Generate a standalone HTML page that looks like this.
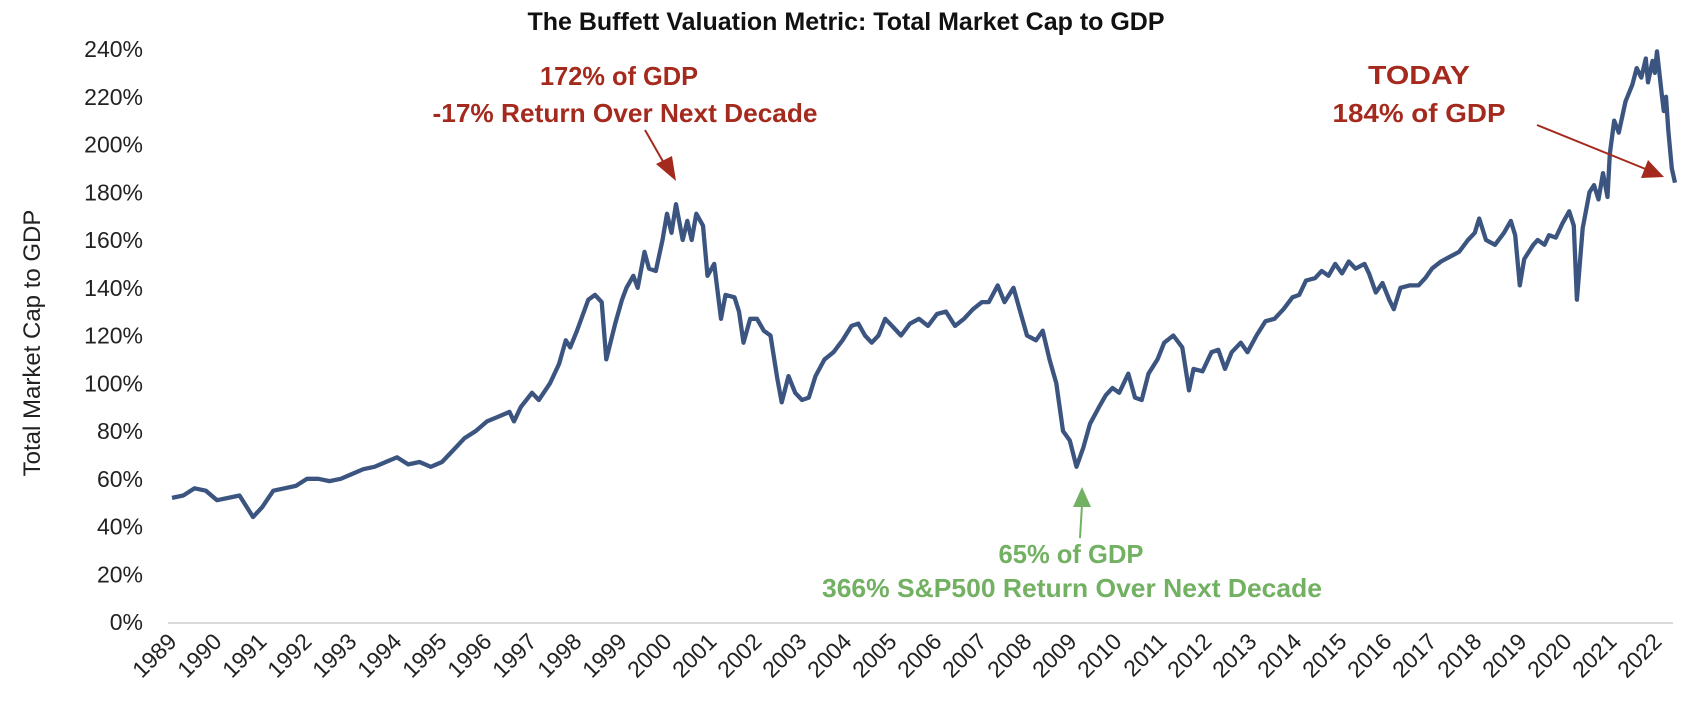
<!DOCTYPE html>
<html><head><meta charset="utf-8"><style>
html,body{margin:0;padding:0;background:#fff;}
svg{display:block;font-family:"Liberation Sans",sans-serif;}
</style></head><body>
<svg id="chart" width="1698" height="716" viewBox="0 0 1698 716" xmlns="http://www.w3.org/2000/svg">
<text x="846" y="30" text-anchor="middle" font-size="25" font-weight="bold" fill="#111">The Buffett Valuation Metric: Total Market Cap to GDP</text>
<text transform="translate(40,343) rotate(-90)" text-anchor="middle" font-size="24" fill="#222">Total Market Cap to GDP</text>
<g id="yticks"></g>
<g id="xticks"></g>
<line x1="168" y1="623" x2="1673" y2="623" stroke="#d9d9d9" stroke-width="2"/>
<path id="series" fill="none" stroke="#3b5580" stroke-width="4.3" stroke-linejoin="round"/>
<g fill="#a52a1e" font-weight="bold" font-size="26" text-anchor="middle">
<text x="619" y="85" textLength="158" lengthAdjust="spacingAndGlyphs">172% of GDP</text>
<text x="625" y="122" textLength="385" lengthAdjust="spacingAndGlyphs">-17% Return Over Next Decade</text>
<line x1="645" y1="130" x2="665" y2="165" stroke="#a52a1e" stroke-width="2"/>
<polygon points="676,181 656,164 672,156"/>
</g>
<g fill="#a52a1e" font-weight="bold" font-size="26" text-anchor="middle">
<text x="1419" y="84" textLength="102" lengthAdjust="spacingAndGlyphs">TODAY</text>
<text x="1419" y="122" textLength="173" lengthAdjust="spacingAndGlyphs">184% of GDP</text>
<line x1="1537" y1="125" x2="1648" y2="170" stroke="#a52a1e" stroke-width="2"/>
<polygon points="1664,177 1641,178 1648,160"/>
</g>
<g fill="#72b062" font-weight="bold" font-size="26" text-anchor="middle">
<text x="1071" y="563" textLength="145" lengthAdjust="spacingAndGlyphs">65% of GDP</text>
<text x="1072" y="597" textLength="500" lengthAdjust="spacingAndGlyphs">366% S&amp;P500 Return Over Next Decade</text>
<line x1="1080" y1="538" x2="1082" y2="505" stroke="#72b062" stroke-width="2"/>
<polygon points="1082,487 1073,507 1091,507"/>
</g>
</svg>
<script>
const years = [1989,1990,1991,1992,1993,1994,1995,1996,1997,1998,1999,2000,2001,2002,2003,2004,2005,2006,2007,2008,2009,2010,2011,2012,2013,2014,2015,2016,2017,2018,2019,2020,2021,2022];
const yTicks = [0,20,40,60,80,100,120,140,160,180,200,220,240];
const dates = [1989,1989.25,1989.5,1989.75,1990,1990.25,1990.5,1990.6,1990.8,1991,1991.25,1991.5,1991.75,1992,1992.25,1992.5,1992.75,1993,1993.25,1993.5,1993.75,1994,1994.25,1994.5,1994.75,1995,1995.25,1995.5,1995.75,1996,1996.25,1996.5,1996.6,1996.75,1997,1997.15,1997.4,1997.6,1997.75,1997.85,1998,1998.25,1998.4,1998.55,1998.65,1998.85,1999,1999.1,1999.25,1999.35,1999.5,1999.6,1999.75,1999.9,2000,2000.1,2000.2,2000.35,2000.45,2000.55,2000.65,2000.8,2000.9,2001.05,2001.2,2001.3,2001.5,2001.6,2001.7,2001.85,2002,2002.15,2002.3,2002.45,2002.55,2002.7,2002.85,2003,2003.15,2003.3,2003.5,2003.7,2003.9,2004.1,2004.25,2004.4,2004.55,2004.7,2004.85,2005,2005.2,2005.4,2005.6,2005.8,2006,2006.2,2006.4,2006.6,2006.8,2007,2007.15,2007.35,2007.5,2007.7,2007.85,2008,2008.2,2008.35,2008.5,2008.65,2008.8,2008.95,2009.1,2009.25,2009.4,2009.6,2009.75,2009.9,2010.05,2010.25,2010.4,2010.55,2010.7,2010.9,2011.05,2011.25,2011.45,2011.6,2011.7,2011.9,2012.1,2012.25,2012.4,2012.55,2012.75,2012.9,2013.1,2013.3,2013.5,2013.7,2013.9,2014.05,2014.2,2014.4,2014.55,2014.7,2014.85,2015,2015.15,2015.3,2015.5,2015.6,2015.75,2015.9,2016.05,2016.15,2016.3,2016.5,2016.7,2016.85,2017,2017.2,2017.4,2017.6,2017.8,2017.95,2018.05,2018.2,2018.4,2018.6,2018.75,2018.85,2018.95,2019.05,2019.25,2019.35,2019.5,2019.6,2019.75,2019.9,2020.05,2020.15,2020.22,2020.35,2020.5,2020.6,2020.7,2020.8,2020.9,2020.95,2021.05,2021.15,2021.3,2021.45,2021.55,2021.65,2021.75,2021.8,2021.9,2021.95,2022,2022.1,2022.15,2022.2,2022.25,2022.33,2022.4];
const values = [52,53,56,55,51,52,53,50,44,48,55,56,57,60,60,59,60,62,64,65,67,69,66,67,65,67,72,77,80,84,86,88,84,90,96,93,100,108,118,115,122,135,137,134,110,125,135,140,145,140,155,148,147,160,171,163,175,160,168,160,171,166,145,150,127,137,136,130,117,127,127,122,120,102,92,103,96,93,94,103,110,113,118,124,125,120,117,120,127,124,120,125,127,124,129,130,124,127,131,134,134,141,134,140,130,120,118,122,110,100,80,76,65,73,83,90,95,98,96,104,94,93,104,110,117,120,115,97,106,105,113,114,106,113,117,113,120,126,127,131,136,137,143,144,147,145,150,146,151,148,150,146,138,142,135,131,140,141,141,144,148,151,153,155,160,163,169,160,158,163,168,162,141,152,158,160,158,162,161,167,172,166,135,165,180,183,177,188,178,196,210,205,218,225,232,228,236,226,235,230,239,222,214,220,206,190,184];

const NS = 'http://www.w3.org/2000/svg';
function xScale(t){ return 172 + (t - 1989) * 45.0; }
function yScale(v){ return 622 - v * 2.3875; }

const yg = document.getElementById('yticks');
yTicks.forEach(v => {
  const t = document.createElementNS(NS, 'text');
  
  
  t.setAttribute('x', 143);
  t.setAttribute('y', yScale(v) + 8);
  t.setAttribute('text-anchor', 'end');
  t.setAttribute('font-size', '23');
  t.setAttribute('fill', '#222');
  t.textContent = v + '%';
  yg.appendChild(t);
});

const xg = document.getElementById('xticks');
years.forEach(y => {
  const x = xScale(y) + 6, yy = 643;
  const t = document.createElementNS(NS, 'text');
  
  
  t.setAttribute('transform', 'translate(' + x + ',' + yy + ') rotate(-45)');
  t.setAttribute('text-anchor', 'end');
  t.setAttribute('font-size', '23');
  t.setAttribute('fill', '#222');
  t.textContent = y;
  xg.appendChild(t);
});

let d = '';
dates.forEach((t, i) => {
  d += (i ? 'L' : 'M') + xScale(t).toFixed(1) + ',' + yScale(values[i]).toFixed(1);
});
document.getElementById('series').setAttribute('d', d);
</script>
</body></html>
